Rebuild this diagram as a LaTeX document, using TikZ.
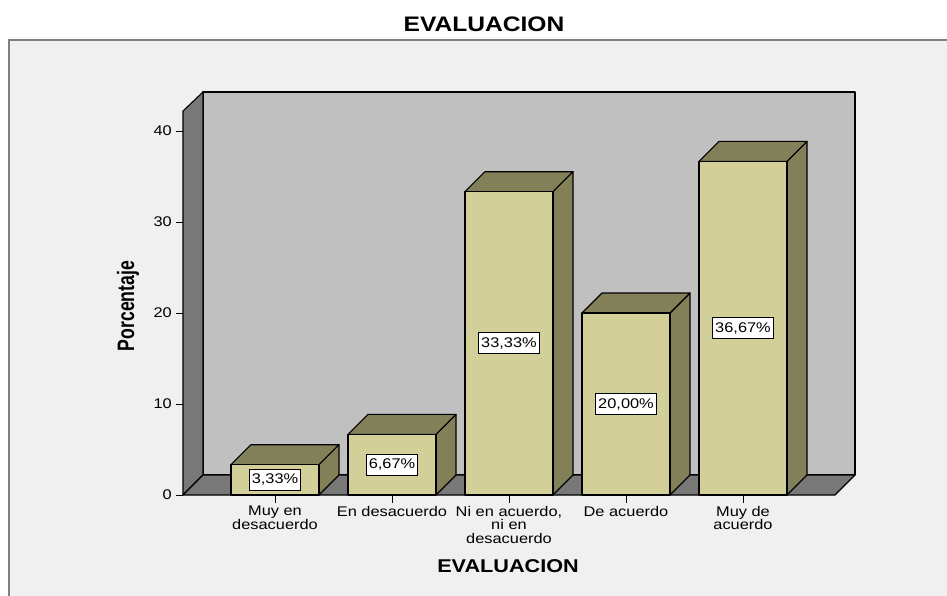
\documentclass[tikz,border=0pt]{standalone}
\usepackage{fontspec}
\setmainfont{Liberation Sans}[FakeStretch=1.17]
\newfontfamily\porcfont{Liberation Sans}[FakeStretch=0.93]
\definecolor{framebg}{HTML}{F0F0F0}
\definecolor{framedraw}{HTML}{808080}
\definecolor{backwall}{HTML}{C0C0C0}
\definecolor{darkwall}{HTML}{787878}
\definecolor{barF}{HTML}{D3CF98}
\definecolor{barS}{HTML}{828059}
\tikzset{
  edge3d/.style={draw=black, line width=1.1pt, line join=round},
  tickl/.style={font=\fontsize{14}{14}\selectfont, anchor=east, inner sep=0pt},
  catl/.style={font=\fontsize{14}{13.5}\selectfont, align=center, anchor=north, inner sep=0pt},
  vall/.style={draw=black, fill=white, line width=0.8pt, font=\fontsize{14}{14}\selectfont, inner sep=2.5pt, minimum height=21pt},
  ttl/.style={font=\bfseries\fontsize{21}{21}\selectfont, inner sep=0pt},
  axt/.style={font=\bfseries\fontsize{18.5}{18.5}\selectfont, inner sep=0pt},
}
\begin{document}
\begin{tikzpicture}[x=1pt,y=-1pt]
\useasboundingbox (0,0) rectangle (947,595);
\clip (0,0) rectangle (947,595);
\fill[white] (0,0) rectangle (947,595);
% outer frame
\draw[draw=framedraw, line width=1.5pt, fill=framebg] (9,40) rectangle (970,620);
% back wall
\draw[edge3d, fill=backwall] (203,92) rectangle (855,475);
% left wall
\draw[edge3d, fill=darkwall] (183,495) -- (183,111) -- (203,92) -- (203,475) -- cycle;
% floor
\draw[edge3d, fill=darkwall] (183,495) -- (203,475) -- (855,475) -- (835,495) -- cycle;
% y ticks
\foreach \k in {0,1,2,3,4} {
  \draw[line width=1pt] (176,495-91*\k) -- (183,495-91*\k);
  \node[tickl] (t\k) at (172,495-91*\k) {\the\numexpr 10*\k\relax};
}
% bars
\foreach \i/\v/\lab in {0/3.33/{3,33\%},1/6.67/{6,67\%},2/33.33/{33,33\%},3/20.00/{20,00\%},4/36.67/{36,67\%}} {
  \pgfmathsetmacro\xl{231+117*\i}
  \pgfmathsetmacro\xr{\xl+88}
  \pgfmathsetmacro\yt{495-9.1*\v}
  \draw[edge3d, fill=barS] (\xr,495) -- (\xr,\yt) -- (\xr+20,\yt-20) -- (\xr+20,475) -- cycle;
  \draw[edge3d, fill=barS] (\xl,\yt) -- (\xl+20,\yt-20) -- (\xr+20,\yt-20) -- (\xr,\yt) -- cycle;
  \draw[edge3d, fill=barF] (\xl,495) rectangle (\xr,\yt);
  \node[vall] (v\i) at (\xl+44,{(495+\yt)/2}) {\lab};
  \draw[line width=1pt] (\xl+44,495) -- (\xl+44,503);
}
% category labels
\node[catl] (c0) at (275,506) {Muy en\\desacuerdo};
\node[catl] (c1) at (392,506) {En desacuerdo};
\node[catl] (c2) at (509,506) {Ni en acuerdo,\\ni en\\desacuerdo};
\node[catl] (c3) at (626,506) {De acuerdo};
\node[catl] (c4) at (743,506) {Muy de\\acuerdo};
% titles
\node[ttl] (title) at (484,24.5) {EVALUACION};
\node[axt] (xtitle) at (508,566.5) {EVALUACION};
\node[font=\porcfont\bfseries\fontsize{19}{19}\selectfont, rotate=90, inner sep=0pt] (ytitle) at (128,306) {\scalebox{1}[1.25]{Porcentaje}};
\end{tikzpicture}
\end{document}
